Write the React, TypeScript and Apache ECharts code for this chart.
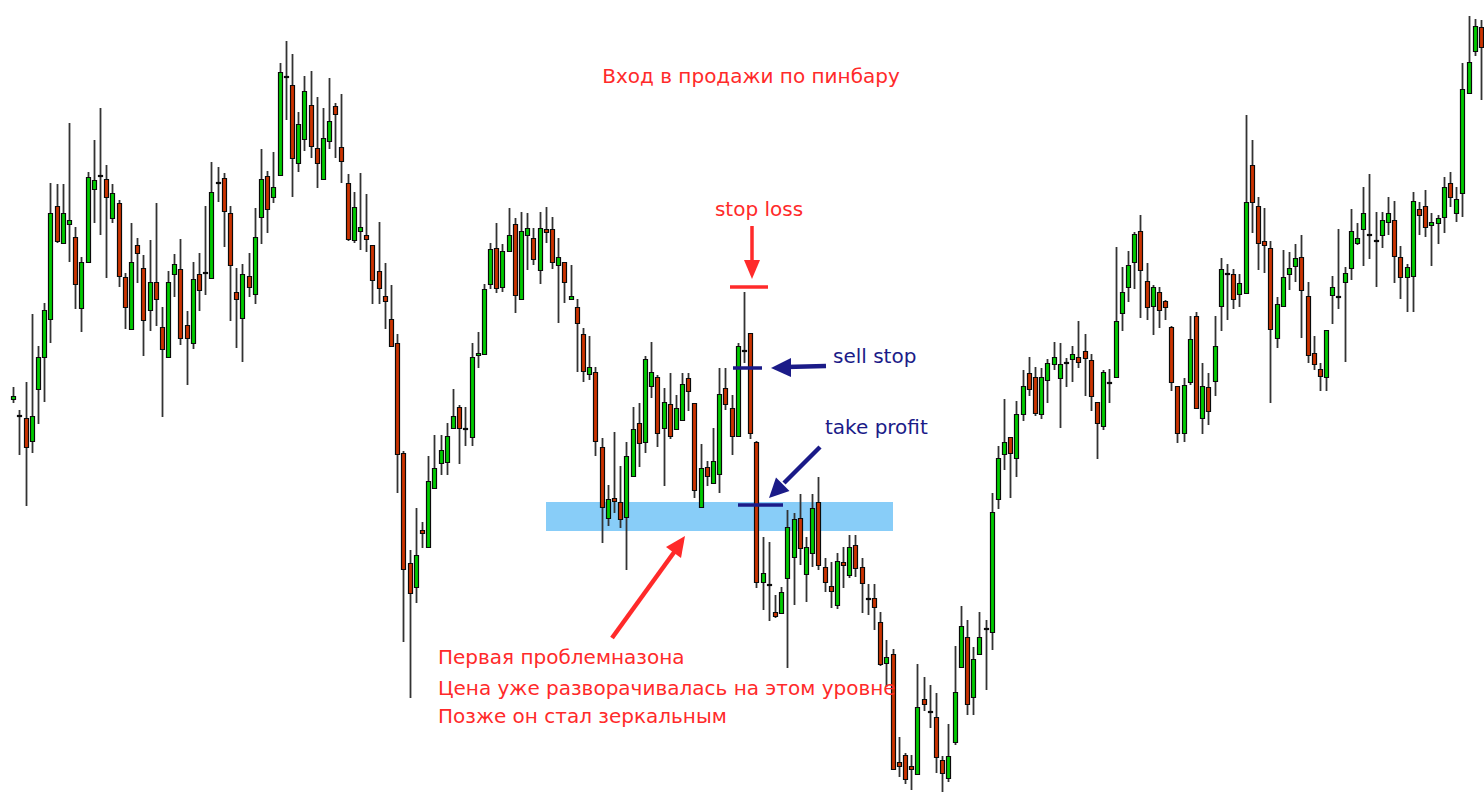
import React, { useEffect, useRef } from "react";
import * as echarts from "echarts";

// Price levels (chart units, larger = lower on the chart)
const opens = [
  399, 415, 418, 441, 389, 357, 319, 206, 243, 224, 237, 308, 262, 189, 176, 179, 218, 203, 277, 329,
  245, 268, 310, 282, 327, 357, 274, 269, 325, 343, 274, 273, 278, 183, 178, 213, 292, 318, 276, 294,
  217, 176, 197, 175, 77, 85, 163, 139, 105, 148, 179, 141, 106, 147, 183, 240, 231, 235, 245, 271,
  296, 319, 343, 453, 563, 587, 530, 547, 488, 463, 462, 428, 407, 428, 437, 355, 354, 284, 248, 287,
  251, 224, 299, 235, 238, 270, 229, 229, 265, 262, 299, 307, 334, 374, 372, 447, 518, 498, 502, 517,
  476, 423, 442, 386, 377, 428, 404, 429, 420, 378, 403, 507, 467, 483, 474, 388, 408, 436, 351, 333,
  442, 582, 584, 612, 613, 578, 557, 518, 574, 553, 502, 567, 586, 605, 562, 575, 545, 567, 598, 598,
  622, 663, 654, 762, 755, 766, 774, 699, 711, 717, 760, 778, 742, 667, 637, 697, 654, 628, 632, 499,
  454, 437, 458, 414, 373, 377, 414, 380, 364, 378, 362, 359, 357, 351, 360, 402, 426, 382, 377, 313,
  287, 262, 231, 281, 306, 292, 301, 327, 386, 433, 382, 316, 418, 387, 381, 306, 273, 274, 294, 293,
  165, 206, 241, 248, 338, 306, 274, 266, 257, 296, 353, 369, 377, 295, 296, 282, 268, 243, 229, 234,
  240, 235, 222, 220, 257, 277, 276, 209, 206, 225, 223, 217, 183, 213, 193, 93, 51, 27,
];
const closes = [
  396, 415, 447, 416, 357, 310, 213, 241, 213, 220, 284, 262, 177, 180, 175, 197, 193, 276, 307, 262,
  253, 320, 282, 299, 349, 282, 264, 338, 338, 279, 290, 272, 192, 182, 211, 265, 299, 274, 287, 237,
  179, 209, 187, 72, 76, 158, 124, 91, 146, 163, 138, 121, 114, 161, 239, 207, 227, 239, 280, 288,
  301, 346, 454, 569, 593, 555, 533, 481, 468, 450, 436, 416, 428, 428, 357, 353, 289, 249, 288, 251,
  235, 295, 231, 228, 259, 228, 232, 262, 257, 282, 296, 323, 371, 367, 441, 507, 499, 501, 519, 456,
  429, 443, 359, 372, 433, 402, 436, 408, 384, 391, 490, 468, 476, 461, 394, 404, 436, 346, 350, 433,
  582, 573, 584, 616, 592, 527, 519, 548, 547, 508, 565, 582, 591, 561, 565, 547, 568, 583, 598, 607,
  664, 657, 769, 766, 779, 769, 707, 704, 711, 757, 773, 756, 692, 626, 704, 659, 637, 628, 512, 458,
  442, 453, 414, 386, 389, 413, 377, 363, 357, 364, 362, 354, 362, 358, 396, 423, 372, 382, 321, 292,
  265, 234, 270, 307, 287, 310, 307, 382, 433, 385, 339, 408, 386, 411, 346, 269, 273, 299, 283, 202,
  202, 243, 245, 329, 304, 277, 268, 258, 290, 355, 364, 376, 330, 287, 296, 273, 231, 238, 213, 234,
  240, 220, 213, 256, 277, 267, 201, 215, 227, 222, 218, 187, 197, 199, 89, 62, 26, 47,
];
const highs = [
  387, 410, 382, 314, 346, 303, 183, 184, 184, 123, 227, 257, 172, 140, 108, 165, 184, 200, 273, 223,
  238, 255, 240, 203, 307, 271, 254, 239, 311, 262, 253, 206, 162, 167, 173, 206, 268, 264, 253, 208,
  149, 171, 152, 63, 41, 54, 112, 76, 71, 97, 108, 78, 103, 94, 174, 192, 173, 194, 245, 222,
  263, 285, 334, 451, 550, 508, 522, 456, 435, 435, 423, 389, 405, 407, 343, 332, 284, 243, 223, 244,
  208, 218, 212, 213, 228, 212, 207, 217, 238, 262, 265, 299, 328, 336, 367, 438, 485, 432, 466, 442,
  407, 403, 356, 342, 375, 388, 373, 395, 373, 373, 403, 444, 461, 428, 368, 368, 395, 343, 292, 333,
  441, 537, 542, 595, 587, 510, 513, 494, 537, 494, 477, 558, 562, 553, 547, 535, 535, 558, 584, 584,
  612, 640, 649, 737, 753, 755, 664, 677, 685, 693, 756, 724, 646, 606, 620, 647, 612, 620, 493, 446,
  399, 437, 401, 370, 357, 367, 368, 359, 342, 343, 358, 346, 321, 334, 354, 402, 370, 369, 247, 267,
  251, 232, 215, 263, 285, 287, 300, 326, 386, 378, 316, 312, 363, 373, 316, 258, 264, 269, 274, 115,
  140, 197, 208, 241, 297, 250, 252, 244, 235, 282, 336, 363, 330, 276, 229, 267, 209, 223, 187, 174,
  212, 212, 197, 201, 246, 264, 192, 202, 190, 213, 215, 177, 172, 187, 63, 16, 19, 20,
];
const lows = [
  403, 455, 506, 453, 424, 402, 343, 243, 243, 262, 309, 332, 262, 223, 235, 278, 223, 287, 329, 329,
  283, 356, 331, 326, 417, 357, 297, 345, 385, 349, 311, 295, 278, 202, 247, 321, 348, 362, 297, 304,
  244, 233, 203, 175, 120, 197, 172, 151, 158, 188, 179, 149, 158, 183, 241, 243, 250, 252, 304, 304,
  329, 347, 493, 642, 698, 603, 548, 547, 488, 475, 475, 428, 464, 446, 446, 368, 354, 289, 293, 292,
  251, 313, 299, 270, 265, 284, 243, 269, 323, 303, 299, 372, 382, 380, 456, 543, 526, 513, 528, 570,
  476, 467, 453, 398, 447, 486, 439, 429, 420, 411, 498, 508, 486, 483, 493, 410, 455, 436, 363, 439,
  588, 610, 621, 618, 613, 668, 605, 565, 602, 567, 570, 592, 608, 609, 588, 578, 577, 613, 615, 630,
  666, 687, 769, 777, 784, 790, 774, 711, 728, 773, 792, 782, 745, 667, 715, 715, 654, 690, 650, 509,
  470, 498, 477, 421, 396, 416, 419, 403, 370, 428, 387, 382, 368, 396, 411, 459, 430, 403, 377, 331,
  302, 289, 318, 320, 335, 328, 320, 391, 443, 442, 385, 408, 434, 425, 396, 331, 320, 309, 307, 293,
  233, 270, 273, 403, 348, 306, 290, 282, 338, 363, 370, 391, 391, 324, 309, 362, 280, 245, 266, 259,
  287, 248, 235, 283, 299, 312, 312, 235, 237, 266, 244, 233, 207, 222, 217, 93, 56, 100,
];
const categories = opens.map((_, i) => String(i + 1));

const TITLE = "Вход в продажи по пинбару";
const STOP_LOSS = "stop loss";
const SELL_STOP = "sell stop";
const TAKE_PROFIT = "take profit";
const NOTE_LINES = [
  "Первая проблемназона",
  "Цена уже разворачивалась на этом уровне",
  "Позже он стал зеркальным",
];

const RED = "#ff2a2a";
const NAVY = "#1b1b88";
const FONT = '20px "DejaVu Sans"';
const UP = "#00cc00";
const DOWN = "#cc3300";

export default function App() {
  const ref = useRef<HTMLDivElement>(null);
  useEffect(() => {
    if (!ref.current) return;
    const chart = echarts.init(ref.current, undefined, { renderer: "svg" });
    const data = opens.map((o, i) => [i, o, closes[i], lows[i], highs[i]]);
    const txt = (text: string, x: number, y: number, fill: string, align: string) => ({
      type: "text",
      x,
      y,
      z: 20,
      silent: true,
      style: { text, fill, font: FONT, textAlign: align, textVerticalAlign: "middle" },
    });
    const line = (x1: number, y1: number, x2: number, y2: number, stroke: string, w: number) => ({
      type: "line",
      z: 20,
      silent: true,
      shape: { x1, y1, x2, y2 },
      style: { stroke, lineWidth: w },
    });
    const tri = (pts: number[][], fill: string) => ({
      type: "polygon",
      z: 20,
      silent: true,
      shape: { points: pts },
      style: { fill },
    });
    const renderItem = (params: any, api: any) => {
      const idx = api.value(0);
      const o = api.value(1);
      const c = api.value(2);
      const l = api.value(3);
      const h = api.value(4);
      const pO = api.coord([idx, o]);
      const pC = api.coord([idx, c]);
      const pL = api.coord([idx, l]);
      const pH = api.coord([idx, h]);
      const cx = Math.round(pO[0]);
      const top = Math.round(Math.min(pO[1], pC[1]));
      const bot = Math.round(Math.max(pO[1], pC[1]));
      const rising = c < o;
      return {
        type: "group",
        children: [
          {
            type: "line",
            shape: { x1: cx + 0.5, y1: pH[1], x2: cx + 0.5, y2: pL[1] },
            style: { stroke: "#333333", lineWidth: 1.8 },
          },
          {
            type: "rect",
            shape: { x: cx - 1.5, y: top + 0.5, width: 4, height: Math.max(bot - top, 1) },
            style: { fill: rising ? UP : DOWN, stroke: "#0a0a0a", lineWidth: 1.2 },
          },
        ],
      };
    };
    const option: any = {
      animation: false,
      backgroundColor: "#ffffff",
      grid: { left: 10.2, top: 0, width: 1477.3, height: 792 },
      xAxis: { type: "category", data: categories, show: false, boundaryGap: true },
      yAxis: { type: "value", inverse: true, min: 0, max: 792, show: false },
      series: [
        {
          type: "custom",
          data,
          renderItem,
          encode: { x: 0, y: [1, 2, 3, 4] },
          z: 5,
          silent: true,
          clip: false,
        },
      ],
      graphic: [
        {
          type: "rect",
          z: 0,
          silent: true,
          shape: { x: 546, y: 502, width: 347, height: 29 },
          style: { fill: "#88cdf8" },
        },
        txt(TITLE, 751, 76, RED, "center"),
        txt(STOP_LOSS, 759, 209, RED, "center"),
        line(752, 226, 752, 264, RED, 3.5),
        tri([[744, 260], [760, 260], [752, 279]], RED),
        line(730, 287, 768, 287, RED, 3.5),
        line(733, 368, 762, 368, NAVY, 3.5),
        txt(SELL_STOP, 833, 356, NAVY, "left"),
        line(826, 366, 786, 367, NAVY, 4.5),
        tri([[791, 358], [791, 377], [771, 368]], NAVY),
        txt(TAKE_PROFIT, 825, 427, NAVY, "left"),
        line(820, 447, 784, 483, NAVY, 4.5),
        tri([[789.5, 491], [776, 477.5], [769, 498]], NAVY),
        line(738, 505, 783, 505, NAVY, 3.5),
        line(612, 638, 675, 551, RED, 4.5),
        tri([[681, 558], [666, 547], [685, 536]], RED),
        txt(NOTE_LINES[0], 438, 657, RED, "left"),
        txt(NOTE_LINES[1], 438, 688, RED, "left"),
        txt(NOTE_LINES[2], 438, 716, RED, "left"),
      ],
    };
    chart.setOption(option);
    return () => chart.dispose();
  }, []);
  return (
    <div
      ref={ref}
      style={{ position: "absolute", left: 0, top: 0, width: 1484, height: 792, background: "#fff" }}
    />
  );
}
